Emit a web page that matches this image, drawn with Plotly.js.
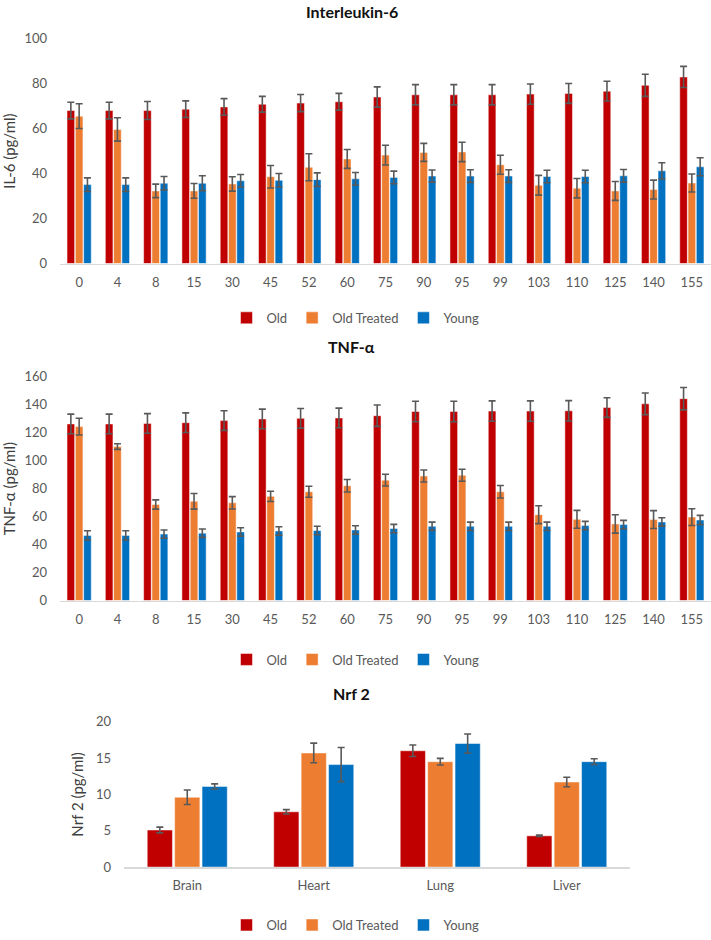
<!DOCTYPE html>
<html>
<head>
<meta charset="utf-8">
<script src="https://cdn.plot.ly/plotly-3.0.1.min.js"></script>
<style>
  html, body { margin: 0; padding: 0; background: #ffffff; }
  #chart { width: 711px; height: 940px; }
</style>
</head>
<body>
<div id="chart"></div>
<script>
// ---------- data ----------
const timeCategories = ["0","4","8","15","30","45","52","60","75","90","95","99","103","110","125","140","155"];

const il6Old        = [68, 68, 68, 68.6, 69.6, 70.8, 71.3, 71.9, 74, 75, 75, 75, 75.3, 75.6, 76.6, 79.2, 82.9];
const il6OldErr     = [3.7, 3.7, 4, 3.7, 3.7, 3.5, 3.8, 3.7, 4.5, 4.5, 4.5, 4.5, 4.5, 4.4, 4.4, 4.9, 4.7];
const il6Treated    = [65.5, 59.6, 32.3, 32.3, 35.4, 38.6, 42.8, 46.5, 48.2, 49.4, 49.6, 43.9, 34.8, 33.5, 32.3, 32.9, 35.8];
const il6TreatedErr = [5.5, 5.2, 3, 3.3, 3.2, 5, 6, 4.2, 4.4, 4, 4.3, 4.2, 4.4, 4.3, 4.2, 4.2, 4];
const il6Young      = [35.1, 35.1, 35.7, 35.7, 36.8, 37, 37.3, 37.7, 38.3, 38.9, 38.9, 38.9, 38.7, 38.7, 39, 41.2, 43];
const il6YoungErr   = [3, 3, 3, 3.3, 2.8, 3, 3, 2.8, 2.8, 2.7, 2.8, 2.8, 2.8, 2.8, 2.8, 3.6, 4];

const tnfOld        = [126.3, 126.3, 126.7, 127.2, 128.7, 129.9, 130.3, 130.6, 132.2, 135.2, 135.2, 135.5, 135.5, 135.7, 138, 140.7, 144.4];
const tnfOldErr     = [7, 7, 7, 7, 7, 7, 7, 7, 7.6, 7.3, 7.3, 7.3, 7.3, 7.3, 7, 7.7, 8];
const tnfTreated    = [124.4, 110.1, 68.7, 71, 69.9, 74.5, 77.8, 82.1, 86.1, 89.1, 89.6, 77.8, 61.4, 58.1, 54.8, 57.9, 59.7];
const tnfTreatedErr = [6, 2, 3.3, 5.6, 4.4, 3.7, 3.9, 4.5, 4.2, 4.3, 4.3, 4.5, 6.4, 6.4, 6.6, 6.4, 6];
const tnfYoung      = [46.6, 46.6, 47.5, 48.2, 49.1, 49.8, 50.1, 50.5, 51.5, 53.1, 53.1, 53.1, 53.1, 53.6, 54.3, 56.2, 57.6];
const tnfYoungErr   = [3.3, 3.3, 3, 3, 3, 3, 3, 3, 3, 3, 3, 3, 3, 3, 3, 3, 3.3];

const tissueCategories = ["Brain", "Heart", "Lung", "Liver"];
const nrfOld        = [5.1, 7.6, 16.0, 4.3];
const nrfOldErr     = [0.4, 0.3, 0.8, 0.1];
const nrfTreated    = [9.6, 15.7, 14.5, 11.7];
const nrfTreatedErr = [1.0, 1.35, 0.45, 0.65];
const nrfYoung      = [11.1, 14.1, 17.0, 14.5];
const nrfYoungErr   = [0.35, 2.35, 1.3, 0.4];

const seriesNames = ["Old", "Old Treated", "Young"];
const chartTitles = ["Interleukin-6", "TNF-α", "Nrf 2"];
const yTitles = ["IL-6 (pg/ml)", "TNF-α (pg/ml)", "Nrf 2 (pg/ml)"];

// ---------- styling ----------
const colors = ["#C00000", "#ED7D31", "#0070C0"];
const FONT = "Lato, 'Open Sans', sans-serif";
const W = 711, H = 940;
const py = p => 1 - p / H;

function bar(name, x, y, err, ci, xa, ya, leg) {
  return {
    type: "bar", name: name, x: x, y: y,
    xaxis: xa, yaxis: ya, legend: leg,
    marker: { color: colors[ci], line: { color: "#ffffff", width: 0.5 } },
    error_y: { type: "data", array: err, visible: true, color: "#595959", thickness: 1.6, width: 3.5 },
    hoverinfo: "skip"
  };
}

const groups = [
  [il6Old, il6OldErr, il6Treated, il6TreatedErr, il6Young, il6YoungErr],
  [tnfOld, tnfOldErr, tnfTreated, tnfTreatedErr, tnfYoung, tnfYoungErr],
  [nrfOld, nrfOldErr, nrfTreated, nrfTreatedErr, nrfYoung, nrfYoungErr]
];
const xs = [timeCategories, timeCategories, tissueCategories];
const axIds = [["x", "y", "legend"], ["x2", "y2", "legend2"], ["x3", "y3", "legend3"]];

const traces = [];
groups.forEach((g, k) => {
  for (let i = 0; i < 3; i++) {
    traces.push(bar(seriesNames[i], xs[k], g[2 * i], g[2 * i + 1], i, axIds[k][0], axIds[k][1], axIds[k][2]));
  }
});

const tickFont = { family: FONT, size: 13, color: "#595959" };
const titleFont = { family: FONT, size: 15, color: "#404040" };

function xAxis(domain, anchor) {
  return {
    domain: domain, anchor: anchor, type: "category",
    showgrid: false, zeroline: false,
    showline: true, linecolor: "#d9d9d9", linewidth: 1.5,
    ticks: "", tickfont: tickFont, ticklabelstandoff: 6,
    fixedrange: true
  };
}
function yAxis(domain, anchor, range, dtick, title, standoff) {
  return {
    domain: domain, anchor: anchor, range: range, dtick: dtick,
    showgrid: false, zeroline: false, showline: false,
    ticks: "", tickfont: tickFont, ticklabelstandoff: 12,
    title: { text: title, font: titleFont, standoff: standoff },
    fixedrange: true
  };
}

const legendBase = (y) => ({
  orientation: "h", x: 0.5, xanchor: "center", y: y, yanchor: "middle",
  font: { family: FONT, size: 13, color: "#595959" },
  itemwidth: 30, bgcolor: "rgba(0,0,0,0)", tracegroupgap: 0
});

const layout = {
  width: W, height: H,
  margin: { l: 0, r: 0, t: 0, b: 0 },
  paper_bgcolor: "#ffffff", plot_bgcolor: "#ffffff",
  barmode: "group", bargap: 0.35, bargroupgap: 0.08,
  showlegend: true,
  xaxis:  xAxis([60 / W, 1], "y"),
  yaxis:  yAxis([py(267), py(39)], "x", [0, 100], 20, yTitles[0], 6),
  xaxis2: xAxis([60 / W, 1], "y2"),
  yaxis2: yAxis([py(608.3), py(381.7)], "x2", [0, 160], 20, yTitles[1], 6),
  xaxis3: xAxis([124 / W, 630 / W], "y3"),
  yaxis3: yAxis([py(878.3), py(731)], "x3", [0, 20], 5, yTitles[2], 8),
  legend:  legendBase(py(322)),
  legend2: legendBase(py(668)),
  legend3: legendBase(py(937)),
  annotations: [
    { text: "<b>" + chartTitles[0] + "</b>", xref: "paper", yref: "paper", x: 0.495, y: 1, showarrow: false, font: { family: FONT, size: 16, color: "#111" }, xanchor: "center", yanchor: "top" },
    { text: "<b>" + chartTitles[1] + "</b>", xref: "paper", yref: "paper", x: 0.495, y: py(351), showarrow: false, font: { family: FONT, size: 16, color: "#111" }, xanchor: "center", yanchor: "middle" },
    { text: "<b>" + chartTitles[2] + "</b>", xref: "paper", yref: "paper", x: 0.495, y: py(702), showarrow: false, font: { family: FONT, size: 16, color: "#111" }, xanchor: "center", yanchor: "middle" }
  ]
};

Plotly.newPlot("chart", traces, layout, { staticPlot: true, displayModeBar: false });
</script>
</body>
</html>
